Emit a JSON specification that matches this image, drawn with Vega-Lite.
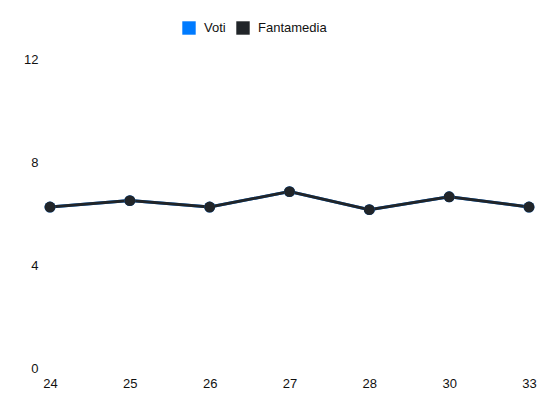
{
  "$schema": "https://vega.github.io/schema/vega-lite/v6.json",
  "width": 479,
  "height": 309,
  "autosize": {"type": "none"},
  "padding": {"left": 50, "top": 59, "right": 21, "bottom": 44},
  "background": "white",
  "config": {
    "view": {"stroke": null},
    "font": "Liberation Sans",
    "axis": {"labelFont": "Liberation Sans", "labelFontSize": 13, "labelColor": "#111111"},
    "legend": {"labelFont": "Liberation Sans", "labelFontSize": 13, "labelColor": "#111111"}
  },
  "data": {
    "values": [
      {"giornata": "24", "serie": "Voti", "valore": 6.25},
      {"giornata": "25", "serie": "Voti", "valore": 6.5},
      {"giornata": "26", "serie": "Voti", "valore": 6.25},
      {"giornata": "27", "serie": "Voti", "valore": 6.85},
      {"giornata": "28", "serie": "Voti", "valore": 6.15},
      {"giornata": "30", "serie": "Voti", "valore": 6.65},
      {"giornata": "33", "serie": "Voti", "valore": 6.25},
      {"giornata": "24", "serie": "Fantamedia", "valore": 6.25},
      {"giornata": "25", "serie": "Fantamedia", "valore": 6.5},
      {"giornata": "26", "serie": "Fantamedia", "valore": 6.25},
      {"giornata": "27", "serie": "Fantamedia", "valore": 6.85},
      {"giornata": "28", "serie": "Fantamedia", "valore": 6.15},
      {"giornata": "30", "serie": "Fantamedia", "valore": 6.65},
      {"giornata": "33", "serie": "Fantamedia", "valore": 6.25}
    ]
  },
  "encoding": {
    "x": {
      "field": "giornata",
      "type": "ordinal",
      "sort": null,
      "scale": {"type": "point", "padding": 0},
      "axis": {"title": null, "labelAngle": 0, "ticks": false, "domain": false, "grid": false, "labelPadding": 9}
    },
    "y": {
      "field": "valore",
      "type": "quantitative",
      "scale": {"domain": [0, 12], "nice": false},
      "axis": {"title": null, "values": [0, 4, 8, 12], "ticks": false, "domain": false, "grid": false, "labelPadding": 12}
    },
    "color": {
      "field": "serie",
      "type": "nominal",
      "sort": ["Voti", "Fantamedia"],
      "scale": {"domain": ["Voti", "Fantamedia"], "range": ["#007bff", "#212529"]},
      "legend": {
        "title": null,
        "orient": "none",
        "direction": "horizontal",
        "legendX": 132,
        "legendY": -38,
        "symbolType": "square",
        "symbolSize": 180,
        "symbolStrokeWidth": 0,
        "columnPadding": 10,
        "labelOffset": 8
      }
    }
  },
  "layer": [
    {"mark": {"type": "line", "strokeWidth": 3}},
    {"mark": {"type": "point", "filled": true, "size": 120, "opacity": 1}}
  ]
}
